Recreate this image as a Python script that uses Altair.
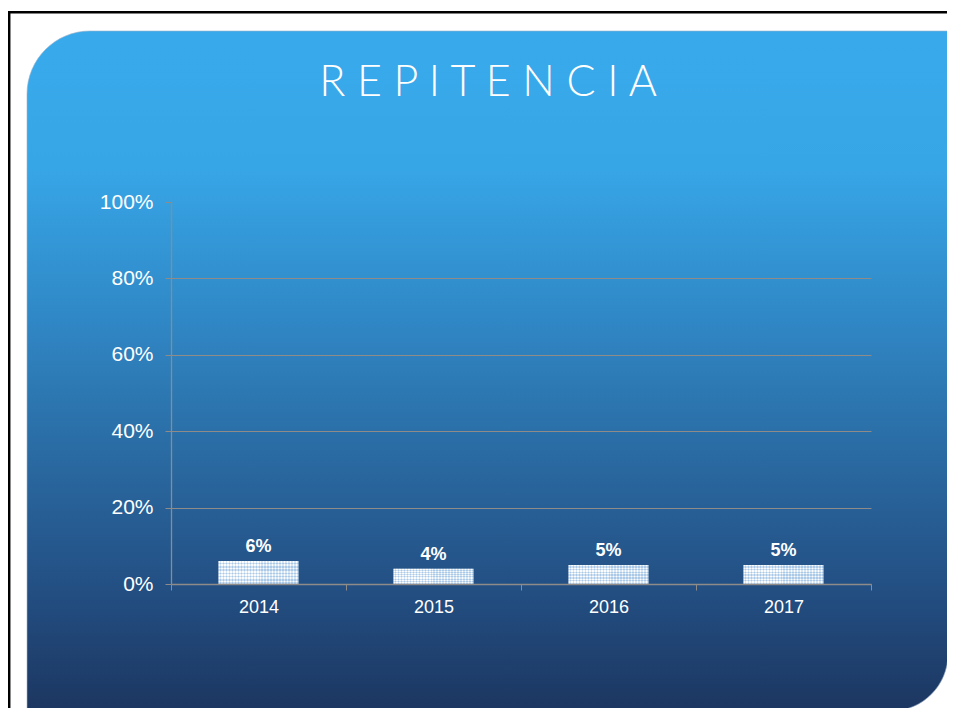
import altair as alt
import pandas as pd

# ---- data ----
years = ["2014", "2015", "2016", "2017"]
values = [0.06, 0.04, 0.05, 0.05]
labels = ["6%", "4%", "5%", "5%"]
y_ticks = [0, 0.2, 0.4, 0.6, 0.8, 1.0]
title_text = "R E P I T E N C I A"

df = pd.DataFrame({"year": years, "value": values, "label": labels})
one = pd.DataFrame({"a": [0]})

GRAY = "#8f8b88"
FONT = "Liberation Sans"

bg_grad = alt.LinearGradient(
    gradient="linear", x1=0, x2=0, y1=0, y2=1,
    stops=[
        alt.GradientStop(offset=0.0, color="#38aaeb"),
        alt.GradientStop(offset=0.2, color="#37a6e7"),
        alt.GradientStop(offset=0.42, color="#3088c6"),
        alt.GradientStop(offset=0.62, color="#2a6ba3"),
        alt.GradientStop(offset=0.82, color="#234f83"),
        alt.GradientStop(offset=1.0, color="#1c3660"),
    ],
)


def stripes(horizontal, n, c1, c2):
    stops = []
    for i in range(n):
        a = i / n
        b = (i + 0.5) / n
        c = (i + 1) / n
        stops += [alt.GradientStop(offset=a, color=c1), alt.GradientStop(offset=b, color=c1),
                  alt.GradientStop(offset=b, color=c2), alt.GradientStop(offset=c, color=c2)]
    if horizontal:
        return alt.LinearGradient(gradient="linear", x1=0, x2=0, y1=0, y2=1, stops=stops)
    return alt.LinearGradient(gradient="linear", x1=0, x2=1, y1=0, y2=0, stops=stops)


bg = alt.Chart(one).mark_rect(
    fill=bg_grad, cornerRadiusTopLeft=63, cornerRadiusBottomRight=57,
    stroke="#9fb3cc", strokeWidth=1, strokeOpacity=0.6,
).encode(x=alt.value(-144), x2=alt.value(777), y=alt.value(-171), y2=alt.value(509))

frame = alt.Chart(one).mark_rect(
    filled=False, stroke="black", strokeWidth=2.5,
).encode(x=alt.value(-161.8), x2=alt.value(820), y=alt.value(-189.8), y2=alt.value(600))

title = alt.Chart(one).mark_text(
    text=title_text, font="Lato", fontWeight=300, fontSize=43, color="white",
    align="center", baseline="alphabetic",
).encode(x=alt.value(317), y=alt.value(-106))

yaxis_line = alt.Chart(one).mark_rule(color=GRAY, strokeWidth=1.3).encode(
    x=alt.value(0.5), y=alt.datum(0), y2=alt.datum(1)
)

base = alt.Chart(df).encode(
    x=alt.X(
        "year:N", sort=years, title=None,
        scale=alt.Scale(paddingInner=0, paddingOuter=0),
        axis=alt.Axis(
            labelAngle=0, labelColor="white", labelFontSize=18, labelFont=FONT,
            labelPadding=8, tickBand="extent", tickSize=6, tickColor=GRAY,
            domainColor=GRAY, domainWidth=1.3, grid=False, zindex=1,
        ),
    ),
    y=alt.Y(
        "value:Q", title=None,
        scale=alt.Scale(domain=[0, 1]),
        axis=alt.Axis(
            values=y_ticks, format="%", labelColor="white", labelFontSize=21,
            labelFont=FONT, labelPadding=12, tickSize=6, tickColor=GRAY,
            domain=False, grid=True,
            gridColor=alt.condition("datum.value >= 1", alt.value("transparent"), alt.value(GRAY)),
            labelFlush=False, zindex=1,
        ),
    ),
)

bw = alt.RelativeBandSize(0.457)
bars1 = base.mark_bar(width=bw, fill=stripes(False, 27, "#f5f9fd", "#b4d0ea"))
bars2 = base.mark_bar(width=bw, fill=stripes(True, 7, "#ffffff", "#9fc1e2"), opacity=0.45)
text = base.mark_text(
    baseline="alphabetic", dy=-9, fontWeight="bold", fontSize=18, font=FONT, color="white",
).encode(text="label:N")

chart = alt.layer(bg, frame, title, yaxis_line, bars1, bars2, text).properties(
    width=700, height=382,
    autosize=alt.AutoSizeParams(type="none"),
    padding={"left": 163, "top": 194, "right": 76, "bottom": 124},
).configure_view(strokeWidth=0)

chart.save("out.html", embed_options={"renderer": "svg", "actions": False})
